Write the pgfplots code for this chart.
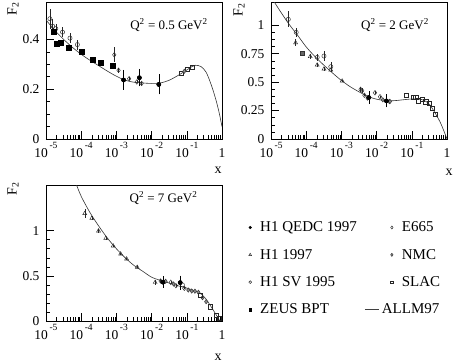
\documentclass[border=0pt]{standalone}
\usepackage{pgfplots}
\pgfplotsset{compat=1.18}
\usepackage{fontspec}
\setmainfont{Liberation Serif}
\newcommand\tickexp[1]{\raisebox{9pt}{\fontsize{9.5}{10}\selectfont\,#1}}
\pgfplotsset{
 every axis/.append style={scale only axis, width=176pt,
   xmin=1e-5, xmax=1, ymin=0,
   xtick={1e-5,1e-4,1e-3,1e-2,1e-1,1},
   xticklabels={{10\tickexp{-5}},{10\tickexp{-4}},{10\tickexp{-3}},{10\tickexp{-2}},{10\tickexp{-1}},{1}},
   minor xtick={2e-5,3e-5,4e-5,5e-5,6e-5,7e-5,8e-5,9e-5,
                2e-4,3e-4,4e-4,5e-4,6e-4,7e-4,8e-4,9e-4,
                2e-3,3e-3,4e-3,5e-3,6e-3,7e-3,8e-3,9e-3,
                2e-2,3e-2,4e-2,5e-2,6e-2,7e-2,8e-2,9e-2,
                0.2,0.3,0.4,0.5,0.6,0.7,0.8,0.9},
   tick align=inside, tick pos=left,
   major tick length=8pt, minor tick length=4pt,
   tick style={black, line width=0.5pt},
   axis line style={black, line width=0.5pt},
   ticklabel style={font=\fontsize{13.5}{14}\selectfont},
   xticklabel style={anchor=base, yshift=-18.5pt},
   yticklabel style={xshift=-3pt},
 },
 myCurve/.style={black!80, line width=0.6pt, no markers, smooth},
 myLegLine/.style={legend image code/.code={\path[draw=none,fill=none] (-4pt,-4pt) rectangle (8pt,4pt); \draw[overlay,##1] (-27pt,0pt) -- (-13pt,0pt);}},
 myLegMark/.style={legend image code/.code={\path[draw=none,fill=none] (-4pt,-4pt) rectangle (8pt,4pt); \draw[##1] plot coordinates {(0pt,0pt)};}},
 myEb/.style={/pgfplots/error bars/y dir=both, /pgfplots/error bars/y explicit,
   /pgfplots/error bars/error bar style={black!85, line width=0.45pt},
   /pgfplots/error bars/error mark=none},
 myEbc/.style={/pgfplots/error bars/y dir=both, /pgfplots/error bars/y explicit,
   /pgfplots/error bars/error bar style={black, line width=0.5pt},
   /pgfplots/error bars/error mark=-,
   /pgfplots/error bars/error mark options={black, line width=0.5pt, mark size=2.5pt}},
 mQEDC/.style={only marks, mark=*, mark size=2.1pt, mark options={draw=black, fill=black}},
 mHone/.style={only marks, mark=triangle, mark size=2.3pt, mark options={draw=black!85, fill=white, line width=0.45pt}},
 mHSV/.style={only marks, mark=o, mark size=2.1pt, mark options={draw=black!85, fill=white, line width=0.45pt}},
 mZEUS/.style={only marks, mark=square*, mark size=2.4pt, mark options={draw=black, fill=black}},
 mEsix/.style={only marks, mark=diamond, mark size=2.3pt, mark options={draw=black!85, fill=white, line width=0.45pt}},
 mNMC/.style={only marks, mark=diamond*, mark size=2.2pt, mark options={draw=black!80, fill=black!45, line width=0.45pt}},
 mSLAC/.style={only marks, mark=square, mark size=2.1pt, mark options={draw=black!85, fill=white, line width=0.45pt}},
}
\begin{document}
\begin{tikzpicture}
\path[use as bounding box] (0pt,0pt) rectangle (454pt,-363pt);
% ---------------- panel 1
\begin{semilogxaxis}[at={(46pt,-139pt)}, anchor=south west, height=137pt, ymax=0.55,
  ytick={0,0.2,0.4}, yticklabels={0,0.2,0.4}, minor y tick num=3]
\addplot[myCurve] coordinates {(1e-5,0.478) (1.778e-5,0.436) (3.162e-5,0.400) (5.623e-5,0.368) (1e-4,0.340) (1.778e-4,0.316) (3.162e-4,0.294) (5.623e-4,0.272) (1e-3,0.252) (1.778e-3,0.236) (3.162e-3,0.228) (5.623e-3,0.225) (1e-2,0.223) (1.778e-2,0.225) (3.162e-2,0.236) (5.623e-2,0.255) (0.1,0.277) (0.1413,0.291) (0.1778,0.296) (0.2512,0.291) (0.3548,0.268) (0.5012,0.215) (0.6761,0.156) (0.8318,0.105) (1,0.05)};
\addplot[mHSV, myEb] coordinates {(1.29e-5,0.483) +- (0,0.04) (1.55e-5,0.453) +- (0,0.03) (1.9e-5,0.443) +- (0,0.02) (2.95e-5,0.429) +- (0,0.02) (4.8e-5,0.405) +- (0,0.02) (7.8e-5,0.379) +- (0,0.02)};
\addplot[mZEUS, myEb] coordinates {(1.62e-5,0.432) +- (0,0.015) (2.0e-5,0.381) +- (0,0.012) (2.6e-5,0.387) +- (0,0.01) (4.5e-5,0.365) +- (0,0.01) (1.05e-4,0.349) +- (0,0.006) (2.1e-4,0.317) +- (0,0.004) (3.5e-4,0.305) +- (0,0.004) (7.8e-4,0.293) +- (0,0.004)};
\addplot[mEsix, myEb] coordinates {(8.7e-4,0.338) +- (0,0.03) (1.15e-3,0.276) +- (0,0.01) (2.3e-3,0.242) +- (0,0.006) (3.8e-3,0.229) +- (0,0.006) (5.2e-3,0.223) +- (0,0.006)};
\addplot[mQEDC, myEbc] coordinates {(1.6e-3,0.237) +- (0,0.03) (4.5e-3,0.246) +- (0,0.025) (1.6e-2,0.219) +- (0,0.03)};
\addplot[only marks, mark=none, myEbc] coordinates {(1.6e-3,0.237) +- (0,0.012) (4.5e-3,0.246) +- (0,0.01) (1.6e-2,0.219) +- (0,0.012)};
\addplot[mSLAC] coordinates {(7.1e-2,0.265) (1.02e-1,0.279) (1.4e-1,0.287)};
\addplot[mNMC] coordinates {(8.5e-2,0.272)};
\end{semilogxaxis}
% ---------------- panel 2
\begin{semilogxaxis}[at={(271pt,-139pt)}, anchor=south west, height=136.4pt, ymax=1.2,
  ytick={0,0.25,0.5,0.75,1}, yticklabels={0,0.25,0.5,0.75,1}, minor y tick num=3]
\addplot[myCurve] coordinates {(1e-5,1.25) (1.778e-5,1.13) (3.162e-5,1.015) (5.623e-5,0.915) (1e-4,0.81) (1.778e-4,0.725) (3.162e-4,0.65) (5.623e-4,0.58) (1e-3,0.515) (1.778e-3,0.46) (3.162e-3,0.415) (5.623e-3,0.375) (1e-2,0.35) (1.778e-2,0.338) (3.162e-2,0.337) (5.623e-2,0.345) (0.1,0.352) (0.1585,0.351) (0.2239,0.34) (0.3162,0.305) (0.4467,0.235) (0.631,0.152) (0.7943,0.08) (1,0)};
\addplot[mHSV, myEb] coordinates {(3.1e-5,1.053) +- (0,0.07) (5.2e-5,0.938) +- (0,0.04) (2.05e-4,0.718) +- (0,0.03) (3.2e-4,0.73) +- (0,0.04) (5.0e-4,0.636) +- (0,0.04)};
\addplot[mHone, myEb] coordinates {(5.0e-5,0.847) +- (0,0.03) (1.3e-4,0.725) +- (0,0.02) (2.05e-4,0.651) +- (0,0.02) (3.2e-4,0.616) +- (0,0.02) (5.0e-4,0.607) +- (0,0.02) (1.05e-3,0.51) +- (0,0.01)};
\addplot[mZEUS, mark options={fill=black!60, draw=black!80}, myEb] coordinates {(7.7e-5,0.754) +- (0,0.02)};
\addplot[mEsix, myEb] coordinates {(3.5e-3,0.437) +- (0,0.02) (3.9e-3,0.425) +- (0,0.02) (4.5e-3,0.385) +- (0,0.01) (9e-3,0.407) +- (0,0.015) (1.25e-2,0.372) +- (0,0.01) (2.3e-2,0.33) +- (0,0.01)};
\addplot[mNMC] coordinates {(5.5e-3,0.36) (1.5e-2,0.345) (2.4e-2,0.33)};
\addplot[mQEDC, myEbc] coordinates {(6.0e-3,0.365) +- (0,0.035) (1.9e-2,0.335) +- (0,0.035)};
\addplot[only marks, mark=none, myEbc] coordinates {(6.0e-3,0.365) +- (0,0.015) (1.9e-2,0.335) +- (0,0.015)};
\addplot[mSLAC] coordinates {(7.1e-2,0.387) (1.07e-1,0.365) (1.3e-1,0.365) (1.5e-1,0.337) (2.0e-1,0.349) (2.5e-1,0.328) (3.15e-1,0.314) (3.9e-1,0.27) (4.6e-1,0.215)};
\end{semilogxaxis}
% ---------------- panel 3
\begin{semilogxaxis}[at={(46pt,-321pt)}, anchor=south west, height=135.5pt, ymax=1.5,
  ytick={0,0.5,1}, yticklabels={0,0.5,1}, minor y tick num=4,
  legend columns=2, legend cell align=left,
  legend style={draw=none, fill=none, at={(1.1307,0.756)}, anchor=north west,
    font=\fontsize{15}{18}\selectfont, row sep=11.9pt, inner sep=1pt,
    /tikz/every even column/.append style={column sep=29pt}},
  legend entries={H1 QEDC 1997, E665, H1 1997, NMC, H1 SV 1995, SLAC, ZEUS BPT, {\hspace*{-20pt}ALLM97}}]
\addlegendimage{mQEDC, mark size=1.4pt, myLegMark}
\addlegendimage{mEsix, mark size=1.6pt, myLegMark}
\addlegendimage{mHone, mark size=1.6pt, myLegMark}
\addlegendimage{mNMC, mark size=1.6pt, myLegMark}
\addlegendimage{mHSV, mark size=1.4pt, myLegMark}
\addlegendimage{mSLAC, mark size=1.4pt, myLegMark}
\addlegendimage{mZEUS, mark size=1.3pt, myLegMark}
\addlegendimage{black!75, line width=0.6pt, myLegLine}
\addplot[myCurve] coordinates {(7e-5,1.53) (1e-4,1.38) (1.778e-4,1.2) (3.162e-4,1.05) (5.623e-4,0.915) (1e-3,0.80) (1.778e-3,0.70) (3.162e-3,0.615) (5.623e-3,0.55) (1e-2,0.485) (1.778e-2,0.45) (3.162e-2,0.42) (5.623e-2,0.39) (0.1,0.365) (0.1778,0.33) (0.263,0.296) (0.3548,0.24) (0.4571,0.177) (0.631,0.09) (0.87,0.0)};
\addplot[mHone, myEb] coordinates {(1.26e-4,1.19) +- (0,0.05) (2.0e-4,1.137) +- (0,0.02) (3.1e-4,0.997) +- (0,0.02) (5.0e-4,0.916) +- (0,0.015) (8.1e-4,0.831) +- (0,0.015) (1.32e-3,0.742) +- (0,0.01) (1.95e-3,0.687) +- (0,0.01) (3.9e-3,0.595) +- (0,0.01) (1.26e-2,0.428) +- (0,0.03)};
\addplot[mEsix, myEb] coordinates {(1.8e-2,0.443) +- (0,0.02) (3.5e-2,0.428) +- (0,0.015) (4.9e-2,0.391) +- (0,0.015) (8.5e-2,0.362) +- (0,0.01)};
\addplot[mNMC] coordinates {(2.5e-2,0.44) (4.2e-2,0.41) (1.1e-1,0.343) (1.38e-1,0.332) (1.7e-1,0.33) (2.14e-1,0.318) (2.8e-1,0.258) (3.55e-1,0.214)};
\addplot[mSLAC] coordinates {(2.45e-1,0.288) (4.6e-1,0.158) (6.8e-1,0.066) (8.5e-1,0.03)};
\addplot[mHSV] coordinates {(7.5e-2,0.40)};
\addplot[mQEDC, myEbc] coordinates {(2.1e-2,0.43) +- (0,0.035) (6.5e-2,0.425) +- (0,0.05)};
\addplot[only marks, mark=none, myEbc] coordinates {(2.1e-2,0.43) +- (0,0.015) (6.5e-2,0.425) +- (0,0.02)};
\end{semilogxaxis}
% ---------------- labels
\begin{scope}[font=\fontsize{14}{16}\selectfont]
\node[rotate=90] at (13pt,-9pt) {F\textsubscript{2}};
\node[rotate=90] at (239pt,-10pt) {F\textsubscript{2}};
\node[rotate=90] at (13pt,-189pt) {F\textsubscript{2}};
\node at (218pt,-170pt) {x};
\node at (449pt,-172pt) {x};
\node at (218pt,-357pt) {x};
\end{scope}
\begin{scope}[font=\fontsize{13}{15}\selectfont]
\node at (169pt,-25pt) {Q\textsuperscript{2} = 0.5 GeV\textsuperscript{2}};
\node at (395pt,-25pt) {Q\textsuperscript{2} = 2 GeV\textsuperscript{2}};
\node at (163.5pt,-198pt) {Q\textsuperscript{2} = 7 GeV\textsuperscript{2}};
\end{scope}
\end{tikzpicture}
\end{document}
